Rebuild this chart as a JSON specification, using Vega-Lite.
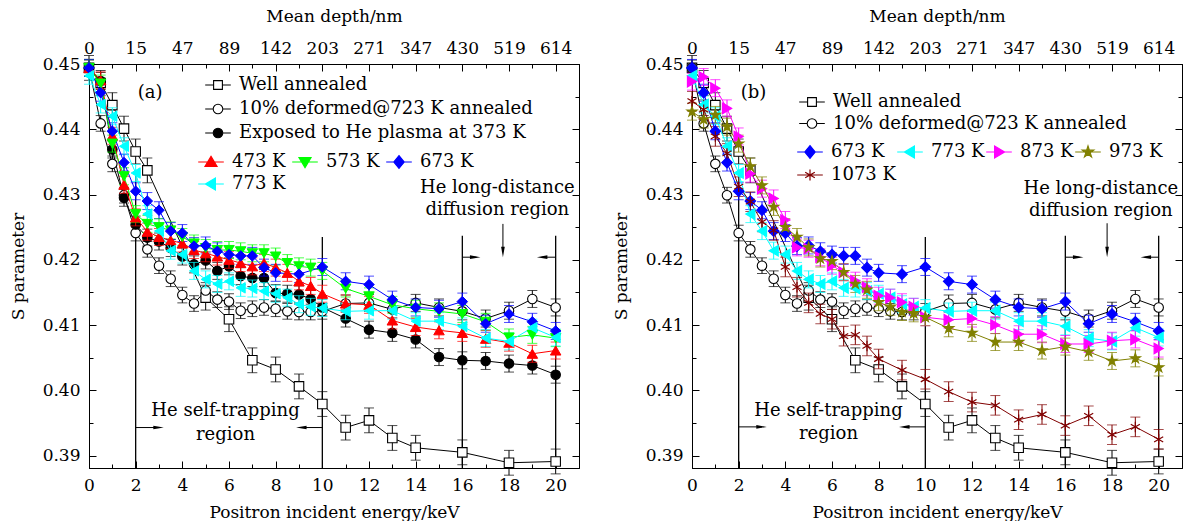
{
  "$schema": "https://vega.github.io/schema/vega-lite/v6.json",
  "background": "white",
  "padding": {"left": 8, "top": 6, "right": 0, "bottom": 0},
  "config": {
    "font": "DejaVu Serif",
    "view": {"stroke": "black", "strokeWidth": 1},
    "axis": {"grid": false, "domainColor": "black", "tickColor": "black", "labelColor": "black", "titleColor": "black", "labelFont": "DejaVu Serif", "titleFont": "DejaVu Serif", "labelFontSize": 17, "titleFontSize": 17, "titleFontWeight": "normal", "labelFlush": false},
    "legend": {"labelFont": "DejaVu Serif", "labelFontSize": 18, "labelColor": "black", "labelLimit": 500},
    "text": {"font": "DejaVu Serif", "fontSize": 18, "color": "black"}
  },
  "datasets": {
    "d": [
      {"s":"Well annealed","x":0,"y":0.4494,"e":0.0019},{"s":"Well annealed","x":0.5,"y":0.4471,"e":0.0019},{"s":"Well annealed","x":1,"y":0.4437,"e":0.0019},{"s":"Well annealed","x":1.5,"y":0.4401,"e":0.0019},{"s":"Well annealed","x":2,"y":0.4366,"e":0.0019},{"s":"Well annealed","x":2.5,"y":0.4337,"e":0.0019},{"s":"Well annealed","x":5,"y":0.4142,"e":0.0019},{"s":"Well annealed","x":6,"y":0.4109,"e":0.0019},{"s":"Well annealed","x":7,"y":0.4046,"e":0.0019},{"s":"Well annealed","x":8,"y":0.4032,"e":0.0019},{"s":"Well annealed","x":9,"y":0.4006,"e":0.0019},{"s":"Well annealed","x":10,"y":0.3979,"e":0.0019},{"s":"Well annealed","x":11,"y":0.3943,"e":0.0019},{"s":"Well annealed","x":12,"y":0.3954,"e":0.0019},{"s":"Well annealed","x":13,"y":0.3927,"e":0.0019},{"s":"Well annealed","x":14,"y":0.3912,"e":0.0019},{"s":"Well annealed","x":16,"y":0.3905,"e":0.0019},{"s":"Well annealed","x":18,"y":0.3889,"e":0.0019},{"s":"Well annealed","x":20,"y":0.3891,"e":0.0019},

      {"s":"10% deformed@723 K annealed","x":0,"y":0.4494,"e":0.0012},{"s":"10% deformed@723 K annealed","x":0.5,"y":0.4409,"e":0.0012},{"s":"10% deformed@723 K annealed","x":1,"y":0.4347,"e":0.0012},{"s":"10% deformed@723 K annealed","x":1.5,"y":0.4299,"e":0.0012},{"s":"10% deformed@723 K annealed","x":2,"y":0.4241,"e":0.0012},{"s":"10% deformed@723 K annealed","x":2.5,"y":0.4216,"e":0.0012},{"s":"10% deformed@723 K annealed","x":3,"y":0.4191,"e":0.0012},{"s":"10% deformed@723 K annealed","x":3.5,"y":0.4171,"e":0.0012},{"s":"10% deformed@723 K annealed","x":4,"y":0.4146,"e":0.0012},{"s":"10% deformed@723 K annealed","x":4.5,"y":0.4133,"e":0.0012},{"s":"10% deformed@723 K annealed","x":5,"y":0.4153,"e":0.0012},{"s":"10% deformed@723 K annealed","x":5.5,"y":0.4139,"e":0.0012},{"s":"10% deformed@723 K annealed","x":6,"y":0.4136,"e":0.0012},{"s":"10% deformed@723 K annealed","x":6.5,"y":0.4122,"e":0.0012},{"s":"10% deformed@723 K annealed","x":7,"y":0.4125,"e":0.0012},{"s":"10% deformed@723 K annealed","x":7.5,"y":0.4127,"e":0.0012},{"s":"10% deformed@723 K annealed","x":8,"y":0.4125,"e":0.0012},{"s":"10% deformed@723 K annealed","x":8.5,"y":0.4121,"e":0.0012},{"s":"10% deformed@723 K annealed","x":9,"y":0.412,"e":0.0012},{"s":"10% deformed@723 K annealed","x":9.5,"y":0.412,"e":0.0012},{"s":"10% deformed@723 K annealed","x":10,"y":0.4121,"e":0.0012},{"s":"10% deformed@723 K annealed","x":11,"y":0.4133,"e":0.0013},{"s":"10% deformed@723 K annealed","x":12,"y":0.4134,"e":0.0013},{"s":"10% deformed@723 K annealed","x":13,"y":0.4124,"e":0.0013},{"s":"10% deformed@723 K annealed","x":14,"y":0.4134,"e":0.0013},{"s":"10% deformed@723 K annealed","x":15,"y":0.4127,"e":0.0013},{"s":"10% deformed@723 K annealed","x":16,"y":0.4121,"e":0.0013},{"s":"10% deformed@723 K annealed","x":17,"y":0.411,"e":0.0013},{"s":"10% deformed@723 K annealed","x":18,"y":0.4122,"e":0.0013},{"s":"10% deformed@723 K annealed","x":19,"y":0.414,"e":0.0013},{"s":"10% deformed@723 K annealed","x":20,"y":0.4127,"e":0.0013},

      {"s":"Exposed to He plasma at 373 K","x":0,"y":0.4494,"e":0.0013},{"s":"Exposed to He plasma at 373 K","x":0.5,"y":0.4474,"e":0.0013},{"s":"Exposed to He plasma at 373 K","x":1,"y":0.4369,"e":0.0013},{"s":"Exposed to He plasma at 373 K","x":1.5,"y":0.4295,"e":0.0013},{"s":"Exposed to He plasma at 373 K","x":2,"y":0.4254,"e":0.0013},{"s":"Exposed to He plasma at 373 K","x":2.5,"y":0.4234,"e":0.0013},{"s":"Exposed to He plasma at 373 K","x":3,"y":0.4228,"e":0.0013},{"s":"Exposed to He plasma at 373 K","x":3.5,"y":0.4218,"e":0.0013},{"s":"Exposed to He plasma at 373 K","x":4,"y":0.4205,"e":0.0013},{"s":"Exposed to He plasma at 373 K","x":4.5,"y":0.4193,"e":0.0013},{"s":"Exposed to He plasma at 373 K","x":5,"y":0.4199,"e":0.0013},{"s":"Exposed to He plasma at 373 K","x":5.5,"y":0.4183,"e":0.0013},{"s":"Exposed to He plasma at 373 K","x":6,"y":0.419,"e":0.0013},{"s":"Exposed to He plasma at 373 K","x":6.5,"y":0.4175,"e":0.0013},{"s":"Exposed to He plasma at 373 K","x":7,"y":0.4172,"e":0.0013},{"s":"Exposed to He plasma at 373 K","x":7.5,"y":0.4172,"e":0.0013},{"s":"Exposed to He plasma at 373 K","x":8,"y":0.4149,"e":0.0013},{"s":"Exposed to He plasma at 373 K","x":8.5,"y":0.4148,"e":0.0013},{"s":"Exposed to He plasma at 373 K","x":9,"y":0.4147,"e":0.0013},{"s":"Exposed to He plasma at 373 K","x":9.5,"y":0.414,"e":0.0013},{"s":"Exposed to He plasma at 373 K","x":10,"y":0.4127,"e":0.0013},{"s":"Exposed to He plasma at 373 K","x":11,"y":0.411,"e":0.0013},{"s":"Exposed to He plasma at 373 K","x":12,"y":0.4093,"e":0.0013},{"s":"Exposed to He plasma at 373 K","x":13,"y":0.4088,"e":0.0013},{"s":"Exposed to He plasma at 373 K","x":14,"y":0.4078,"e":0.0013},{"s":"Exposed to He plasma at 373 K","x":15,"y":0.4051,"e":0.0013},{"s":"Exposed to He plasma at 373 K","x":16,"y":0.4046,"e":0.0013},{"s":"Exposed to He plasma at 373 K","x":17,"y":0.4045,"e":0.0013},{"s":"Exposed to He plasma at 373 K","x":18,"y":0.4041,"e":0.0013},{"s":"Exposed to He plasma at 373 K","x":19,"y":0.4038,"e":0.0013},{"s":"Exposed to He plasma at 373 K","x":20,"y":0.4024,"e":0.0013},

      {"s":"473 K","x":0,"y":0.4494,"e":0.0013},{"s":"473 K","x":0.5,"y":0.4475,"e":0.0013},{"s":"473 K","x":1,"y":0.439,"e":0.0013},{"s":"473 K","x":1.5,"y":0.4315,"e":0.0013},{"s":"473 K","x":2,"y":0.4265,"e":0.0013},{"s":"473 K","x":2.5,"y":0.4243,"e":0.0013},{"s":"473 K","x":3,"y":0.4235,"e":0.0013},{"s":"473 K","x":3.5,"y":0.423,"e":0.0013},{"s":"473 K","x":4,"y":0.4225,"e":0.0013},{"s":"473 K","x":4.5,"y":0.4215,"e":0.0013},{"s":"473 K","x":5,"y":0.421,"e":0.0013},{"s":"473 K","x":5.5,"y":0.4205,"e":0.0013},{"s":"473 K","x":6,"y":0.42,"e":0.0013},{"s":"473 K","x":6.5,"y":0.4195,"e":0.0013},{"s":"473 K","x":7,"y":0.419,"e":0.0013},{"s":"473 K","x":7.5,"y":0.4195,"e":0.0013},{"s":"473 K","x":8,"y":0.4188,"e":0.0013},{"s":"473 K","x":8.5,"y":0.418,"e":0.0013},{"s":"473 K","x":9,"y":0.4167,"e":0.0013},{"s":"473 K","x":9.5,"y":0.416,"e":0.0013},{"s":"473 K","x":10,"y":0.4148,"e":0.0013},{"s":"473 K","x":11,"y":0.4133,"e":0.0013},{"s":"473 K","x":12,"y":0.4131,"e":0.0013},{"s":"473 K","x":13,"y":0.4107,"e":0.0013},{"s":"473 K","x":14,"y":0.4097,"e":0.0013},{"s":"473 K","x":15,"y":0.4092,"e":0.0013},{"s":"473 K","x":16,"y":0.4088,"e":0.0013},{"s":"473 K","x":17,"y":0.4079,"e":0.0013},{"s":"473 K","x":18,"y":0.4073,"e":0.0013},{"s":"473 K","x":19,"y":0.4056,"e":0.0013},{"s":"473 K","x":20,"y":0.4061,"e":0.0013},

      {"s":"573 K","x":0,"y":0.4494,"e":0.0013},{"s":"573 K","x":0.5,"y":0.447,"e":0.0013},{"s":"573 K","x":1,"y":0.4378,"e":0.0013},{"s":"573 K","x":1.5,"y":0.4328,"e":0.0013},{"s":"573 K","x":2,"y":0.427,"e":0.0013},{"s":"573 K","x":2.5,"y":0.4255,"e":0.0013},{"s":"573 K","x":3,"y":0.425,"e":0.0013},{"s":"573 K","x":3.5,"y":0.4245,"e":0.0013},{"s":"573 K","x":4,"y":0.4235,"e":0.0013},{"s":"573 K","x":4.5,"y":0.4225,"e":0.0013},{"s":"573 K","x":5,"y":0.4218,"e":0.0013},{"s":"573 K","x":5.5,"y":0.4215,"e":0.0013},{"s":"573 K","x":6,"y":0.4215,"e":0.0013},{"s":"573 K","x":6.5,"y":0.4213,"e":0.0013},{"s":"573 K","x":7,"y":0.421,"e":0.0013},{"s":"573 K","x":7.5,"y":0.421,"e":0.0013},{"s":"573 K","x":8,"y":0.4205,"e":0.0013},{"s":"573 K","x":8.5,"y":0.4195,"e":0.0013},{"s":"573 K","x":9,"y":0.419,"e":0.0013},{"s":"573 K","x":9.5,"y":0.4188,"e":0.0013},{"s":"573 K","x":10,"y":0.4183,"e":0.0013},{"s":"573 K","x":11,"y":0.4156,"e":0.0013},{"s":"573 K","x":12,"y":0.4144,"e":0.0013},{"s":"573 K","x":13,"y":0.4131,"e":0.0013},{"s":"573 K","x":14,"y":0.4125,"e":0.0013},{"s":"573 K","x":15,"y":0.4121,"e":0.0013},{"s":"573 K","x":16,"y":0.4117,"e":0.0013},{"s":"573 K","x":17,"y":0.4105,"e":0.0013},{"s":"573 K","x":18,"y":0.4081,"e":0.0013},{"s":"573 K","x":19,"y":0.4085,"e":0.0013},{"s":"573 K","x":20,"y":0.408,"e":0.0013},

      {"s":"673 K","x":0,"y":0.4494,"e":0.0013},{"s":"673 K","x":0.5,"y":0.4456,"e":0.0013},{"s":"673 K","x":1,"y":0.4397,"e":0.0013},{"s":"673 K","x":1.5,"y":0.4349,"e":0.0013},{"s":"673 K","x":2,"y":0.4305,"e":0.0013},{"s":"673 K","x":2.5,"y":0.429,"e":0.0013},{"s":"673 K","x":3,"y":0.4276,"e":0.0013},{"s":"673 K","x":3.5,"y":0.4244,"e":0.0013},{"s":"673 K","x":4,"y":0.4241,"e":0.0013},{"s":"673 K","x":4.5,"y":0.4221,"e":0.0013},{"s":"673 K","x":5,"y":0.4222,"e":0.0013},{"s":"673 K","x":5.5,"y":0.4213,"e":0.0013},{"s":"673 K","x":6,"y":0.4208,"e":0.0013},{"s":"673 K","x":6.5,"y":0.4206,"e":0.0013},{"s":"673 K","x":7,"y":0.4206,"e":0.0013},{"s":"673 K","x":7.5,"y":0.4188,"e":0.0013},{"s":"673 K","x":8,"y":0.418,"e":0.0013},{"s":"673 K","x":9,"y":0.4178,"e":0.0013},{"s":"673 K","x":10,"y":0.4189,"e":0.0013},{"s":"673 K","x":11,"y":0.4167,"e":0.0013},{"s":"673 K","x":12,"y":0.4162,"e":0.0013},{"s":"673 K","x":13,"y":0.4139,"e":0.0013},{"s":"673 K","x":14,"y":0.4127,"e":0.0013},{"s":"673 K","x":15,"y":0.4125,"e":0.0013},{"s":"673 K","x":16,"y":0.4136,"e":0.0013},{"s":"673 K","x":17,"y":0.4102,"e":0.0013},{"s":"673 K","x":18,"y":0.4117,"e":0.0013},{"s":"673 K","x":19,"y":0.4105,"e":0.0013},{"s":"673 K","x":20,"y":0.4091,"e":0.0013},

      {"s":"773 K","x":0,"y":0.4482,"e":0.0013},{"s":"773 K","x":0.5,"y":0.4438,"e":0.0013},{"s":"773 K","x":1,"y":0.442,"e":0.0013},{"s":"773 K","x":1.5,"y":0.4374,"e":0.0013},{"s":"773 K","x":2,"y":0.4333,"e":0.0013},{"s":"773 K","x":2.5,"y":0.427,"e":0.0013},{"s":"773 K","x":3,"y":0.4244,"e":0.0013},{"s":"773 K","x":3.5,"y":0.4214,"e":0.0013},{"s":"773 K","x":4,"y":0.4208,"e":0.0013},{"s":"773 K","x":4.5,"y":0.4183,"e":0.0013},{"s":"773 K","x":5,"y":0.417,"e":0.0013},{"s":"773 K","x":5.5,"y":0.4163,"e":0.0013},{"s":"773 K","x":6,"y":0.4167,"e":0.0013},{"s":"773 K","x":6.5,"y":0.4157,"e":0.0013},{"s":"773 K","x":7,"y":0.4156,"e":0.0013},{"s":"773 K","x":7.5,"y":0.4152,"e":0.0013},{"s":"773 K","x":8,"y":0.4148,"e":0.0013},{"s":"773 K","x":8.5,"y":0.4142,"e":0.0013},{"s":"773 K","x":9,"y":0.4132,"e":0.0013},{"s":"773 K","x":9.5,"y":0.4128,"e":0.0013},{"s":"773 K","x":10,"y":0.4126,"e":0.0013},{"s":"773 K","x":11,"y":0.4121,"e":0.0013},{"s":"773 K","x":12,"y":0.4122,"e":0.0013},{"s":"773 K","x":13,"y":0.4122,"e":0.0013},{"s":"773 K","x":14,"y":0.4106,"e":0.0013},{"s":"773 K","x":15,"y":0.4106,"e":0.0013},{"s":"773 K","x":16,"y":0.4098,"e":0.0013},{"s":"773 K","x":17,"y":0.408,"e":0.0013},{"s":"773 K","x":18,"y":0.4075,"e":0.0013},{"s":"773 K","x":19,"y":0.4096,"e":0.0013},{"s":"773 K","x":20,"y":0.4081,"e":0.0013},

      {"s":"873 K","x":0,"y":0.4473,"e":0.0013},{"s":"873 K","x":0.5,"y":0.448,"e":0.0013},{"s":"873 K","x":1,"y":0.4463,"e":0.0013},{"s":"873 K","x":1.5,"y":0.4432,"e":0.0013},{"s":"873 K","x":2,"y":0.4389,"e":0.0013},{"s":"873 K","x":2.5,"y":0.4332,"e":0.0013},{"s":"873 K","x":3,"y":0.4309,"e":0.0013},{"s":"873 K","x":3.5,"y":0.4294,"e":0.0013},{"s":"873 K","x":4,"y":0.4261,"e":0.0013},{"s":"873 K","x":4.5,"y":0.4219,"e":0.0013},{"s":"873 K","x":5,"y":0.4217,"e":0.0013},{"s":"873 K","x":5.5,"y":0.4204,"e":0.0013},{"s":"873 K","x":6,"y":0.4191,"e":0.0013},{"s":"873 K","x":6.5,"y":0.4181,"e":0.0013},{"s":"873 K","x":7,"y":0.4168,"e":0.0013},{"s":"873 K","x":7.5,"y":0.4158,"e":0.0013},{"s":"873 K","x":8,"y":0.4145,"e":0.0013},{"s":"873 K","x":8.5,"y":0.4142,"e":0.0013},{"s":"873 K","x":9,"y":0.4135,"e":0.0013},{"s":"873 K","x":9.5,"y":0.4128,"e":0.0013},{"s":"873 K","x":10,"y":0.4112,"e":0.0013},{"s":"873 K","x":11,"y":0.4108,"e":0.0013},{"s":"873 K","x":12,"y":0.411,"e":0.0013},{"s":"873 K","x":13,"y":0.41,"e":0.0013},{"s":"873 K","x":14,"y":0.4086,"e":0.0013},{"s":"873 K","x":15,"y":0.4086,"e":0.0013},{"s":"873 K","x":16,"y":0.4071,"e":0.0013},{"s":"873 K","x":17,"y":0.4071,"e":0.0013},{"s":"873 K","x":18,"y":0.4076,"e":0.0013},{"s":"873 K","x":19,"y":0.4078,"e":0.0013},{"s":"873 K","x":20,"y":0.4064,"e":0.0013},

      {"s":"973 K","x":0,"y":0.4427,"e":0.0013},{"s":"973 K","x":0.5,"y":0.4415,"e":0.0013},{"s":"973 K","x":1,"y":0.4422,"e":0.0013},{"s":"973 K","x":1.5,"y":0.4404,"e":0.0013},{"s":"973 K","x":2,"y":0.4378,"e":0.0013},{"s":"973 K","x":2.5,"y":0.4343,"e":0.0013},{"s":"973 K","x":3,"y":0.4314,"e":0.0013},{"s":"973 K","x":3.5,"y":0.4281,"e":0.0013},{"s":"973 K","x":4,"y":0.425,"e":0.0013},{"s":"973 K","x":4.5,"y":0.4235,"e":0.0013},{"s":"973 K","x":5,"y":0.4219,"e":0.0013},{"s":"973 K","x":5.5,"y":0.4202,"e":0.0013},{"s":"973 K","x":6,"y":0.4198,"e":0.0013},{"s":"973 K","x":6.5,"y":0.4181,"e":0.0013},{"s":"973 K","x":7,"y":0.4163,"e":0.0013},{"s":"973 K","x":7.5,"y":0.4154,"e":0.0013},{"s":"973 K","x":8,"y":0.4135,"e":0.0013},{"s":"973 K","x":8.5,"y":0.4128,"e":0.0013},{"s":"973 K","x":9,"y":0.412,"e":0.0013},{"s":"973 K","x":9.5,"y":0.4118,"e":0.0013},{"s":"973 K","x":10,"y":0.4112,"e":0.0013},{"s":"973 K","x":11,"y":0.4095,"e":0.0013},{"s":"973 K","x":12,"y":0.4088,"e":0.0013},{"s":"973 K","x":13,"y":0.4074,"e":0.0013},{"s":"973 K","x":14,"y":0.4074,"e":0.0013},{"s":"973 K","x":15,"y":0.4061,"e":0.0013},{"s":"973 K","x":16,"y":0.4067,"e":0.0013},{"s":"973 K","x":17,"y":0.4059,"e":0.0013},{"s":"973 K","x":18,"y":0.4045,"e":0.0013},{"s":"973 K","x":19,"y":0.4049,"e":0.0013},{"s":"973 K","x":20,"y":0.4035,"e":0.0013},

      {"s":"1073 K","x":0,"y":0.4443,"e":0.0015},{"s":"1073 K","x":0.5,"y":0.443,"e":0.0015},{"s":"1073 K","x":1,"y":0.4389,"e":0.0015},{"s":"1073 K","x":1.5,"y":0.4363,"e":0.0015},{"s":"1073 K","x":2,"y":0.4312,"e":0.0015},{"s":"1073 K","x":2.5,"y":0.4289,"e":0.0015},{"s":"1073 K","x":3,"y":0.4258,"e":0.0015},{"s":"1073 K","x":3.5,"y":0.4245,"e":0.0015},{"s":"1073 K","x":4,"y":0.4189,"e":0.0015},{"s":"1073 K","x":4.5,"y":0.4158,"e":0.0015},{"s":"1073 K","x":5,"y":0.4134,"e":0.0015},{"s":"1073 K","x":5.5,"y":0.4117,"e":0.0015},{"s":"1073 K","x":6,"y":0.4109,"e":0.0015},{"s":"1073 K","x":6.5,"y":0.4083,"e":0.0015},{"s":"1073 K","x":7,"y":0.4085,"e":0.0015},{"s":"1073 K","x":7.5,"y":0.4068,"e":0.0015},{"s":"1073 K","x":8,"y":0.4048,"e":0.0015},{"s":"1073 K","x":9,"y":0.4031,"e":0.0015},{"s":"1073 K","x":10,"y":0.4017,"e":0.0015},{"s":"1073 K","x":11,"y":0.3998,"e":0.0015},{"s":"1073 K","x":12,"y":0.3982,"e":0.0015},{"s":"1073 K","x":13,"y":0.3977,"e":0.0015},{"s":"1073 K","x":14,"y":0.3955,"e":0.0015},{"s":"1073 K","x":15,"y":0.3963,"e":0.0015},{"s":"1073 K","x":16,"y":0.3946,"e":0.0015},{"s":"1073 K","x":17,"y":0.3961,"e":0.0015},{"s":"1073 K","x":18,"y":0.3932,"e":0.0015},{"s":"1073 K","x":19,"y":0.3944,"e":0.0015},{"s":"1073 K","x":20,"y":0.3925,"e":0.0015}
    ]
  },
  "spacing": 31,
  "resolve": {"scale": {"x": "independent", "y": "independent", "color": "independent", "stroke": "independent", "shape": "independent", "fill": "independent"}},
  "hconcat": [
    {
      "width": 490, "height": 404,
      "data": {"name": "d"},
      "resolve": {"scale": {"color": "independent", "stroke": "independent", "shape": "independent", "fill": "independent"}, "axis": {"x": "independent", "y": "independent"}},
      "layer": [
        {
          "mark": {"type": "point", "opacity": 0},
          "encoding": {
            "x": {"field": "x", "type": "quantitative", "scale": {"domain": [0, 21], "nice": false, "zero": false},
              "axis": {"orient": "bottom", "title": "Positron incident energy/keV", "values": [0,1,2,3,4,5,6,7,8,9,10,11,12,13,14,15,16,17,18,19,20], "labelExpr": "datum.value % 2 === 0 ? datum.label : ''", "tickSize": {"condition": {"test": "datum.value % 2 === 0", "value": -7}, "value": -4}, "labelPadding": 16, "titlePadding": 11}},
            "y": {"field": "y", "type": "quantitative", "scale": {"domain": [0.3881, 0.45], "nice": false, "zero": false},
              "axis": {"orient": "left", "title": "S parameter", "values": [0.39,0.395,0.4,0.405,0.41,0.415,0.42,0.425,0.43,0.435,0.44,0.445,0.45], "labelExpr": "abs(datum.value*100 - round(datum.value*100)) < 0.01 ? format(datum.value, '.2f') : ''", "tickSize": {"condition": {"test": "abs(datum.value*100 - round(datum.value*100)) < 0.01", "value": -7}, "value": -4}, "labelPadding": 16, "titlePadding": 15}}
          }
        },
        {
          "mark": {"type": "point", "opacity": 0},
          "encoding": {
            "x": {"field": "x", "type": "quantitative",
              "axis": {"orient": "top", "title": "Mean depth/nm", "values": [0,1,2,3,4,5,6,7,8,9,10,11,12,13,14,15,16,17,18,19,20], "labelExpr": "datum.value % 2 === 0 ? ['0','15','47','89','142','203','271','347','430','519','614'][datum.value/2] : ''", "tickSize": {"condition": {"test": "datum.value % 2 === 0", "value": -7}, "value": -4}, "labelPadding": 14, "titlePadding": 14}},
            "y": {"field": "y", "type": "quantitative",
              "axis": {"orient": "right", "title": null, "labels": false, "values": [0.39,0.395,0.4,0.405,0.41,0.415,0.42,0.425,0.43,0.435,0.44,0.445,0.45], "tickSize": {"condition": {"test": "abs(datum.value*100 - round(datum.value*100)) < 0.01", "value": -7}, "value": -4}}}
          }
        },
        {"data": {"values": [{}]}, "mark": {"type": "rule", "color": "black", "strokeWidth": 1.3}, "encoding": {"x": {"datum": 2, "axis": null}, "y": {"datum": 0.3881, "axis": null}, "y2": {"datum": 0.433}}},
        {"data": {"values": [{}]}, "mark": {"type": "rule", "color": "black", "strokeWidth": 1.3}, "encoding": {"x": {"datum": 10, "axis": null}, "y": {"datum": 0.3881, "axis": null}, "y2": {"datum": 0.4235}}},
        {"data": {"values": [{}]}, "mark": {"type": "rule", "color": "black", "strokeWidth": 1.3}, "encoding": {"x": {"datum": 16, "axis": null}, "y": {"datum": 0.3881, "axis": null}, "y2": {"datum": 0.4237}}},
        {"data": {"values": [{}]}, "mark": {"type": "rule", "color": "black", "strokeWidth": 1.3}, "encoding": {"x": {"datum": 20, "axis": null}, "y": {"datum": 0.3881, "axis": null}, "y2": {"datum": 0.4237}}},
        {"data": {"values": [{}]}, "mark": {"type": "rule", "color": "black", "strokeWidth": 1}, "encoding": {"x": {"datum": 2, "axis": null}, "x2": {"datum": 3.0}, "y": {"datum": 0.3943, "axis": null}}},
        {"data": {"values": [{}]}, "mark": {"type": "rule", "color": "black", "strokeWidth": 1}, "encoding": {"x": {"datum": 9.1, "axis": null}, "x2": {"datum": 10}, "y": {"datum": 0.3943, "axis": null}}},
        {"data": {"values": [{}]}, "mark": {"type": "rule", "color": "black", "strokeWidth": 1}, "encoding": {"x": {"datum": 16, "axis": null}, "x2": {"datum": 16.6}, "y": {"datum": 0.4204, "axis": null}}},
        {"data": {"values": [{}]}, "mark": {"type": "rule", "color": "black", "strokeWidth": 1}, "encoding": {"x": {"datum": 19.4, "axis": null}, "x2": {"datum": 20}, "y": {"datum": 0.4204, "axis": null}}},
        {"data": {"values": [{}]}, "mark": {"type": "rule", "color": "black", "strokeWidth": 1}, "encoding": {"x": {"datum": 17.74, "axis": null}, "y": {"datum": 0.4255, "axis": null}, "y2": {"datum": 0.4212}}},
        {"data": {"values": [{}]}, "mark": {"type": "point", "filled": true, "color": "black", "opacity": 1, "size": 110, "shape": "M-1,-0.35L1,0L-1,0.35Z"}, "encoding": {"x": {"datum": 2.98, "axis": null}, "y": {"datum": 0.3943, "axis": null}}},
        {"data": {"values": [{}]}, "mark": {"type": "point", "filled": true, "color": "black", "opacity": 1, "size": 110, "shape": "M1,-0.35L-1,0L1,0.35Z"}, "encoding": {"x": {"datum": 9.1, "axis": null}, "y": {"datum": 0.3943, "axis": null}}},
        {"data": {"values": [{}]}, "mark": {"type": "point", "filled": true, "color": "black", "opacity": 1, "size": 110, "shape": "M-1,-0.35L1,0L-1,0.35Z"}, "encoding": {"x": {"datum": 16.55, "axis": null}, "y": {"datum": 0.4204, "axis": null}}},
        {"data": {"values": [{}]}, "mark": {"type": "point", "filled": true, "color": "black", "opacity": 1, "size": 110, "shape": "M1,-0.35L-1,0L1,0.35Z"}, "encoding": {"x": {"datum": 19.42, "axis": null}, "y": {"datum": 0.4204, "axis": null}}},
        {"data": {"values": [{}]}, "mark": {"type": "point", "filled": true, "color": "black", "opacity": 1, "size": 110, "shape": "M-0.35,-1L0,1L0.35,-1Z"}, "encoding": {"x": {"datum": 17.74, "axis": null}, "y": {"datum": 0.4212, "axis": null}}},
        {"data": {"values": [{}]}, "mark": {"type": "text", "text": "He self-trapping"}, "encoding": {"x": {"datum": 5.85, "axis": null}, "y": {"datum": 0.3968, "axis": null}}},
        {"data": {"values": [{}]}, "mark": {"type": "text", "text": "region"}, "encoding": {"x": {"datum": 5.85, "axis": null}, "y": {"datum": 0.3932, "axis": null}}},
        {"data": {"values": [{}]}, "mark": {"type": "text", "text": "He long-distance"}, "encoding": {"x": {"datum": 17.5, "axis": null}, "y": {"datum": 0.4310, "axis": null}}},
        {"data": {"values": [{}]}, "mark": {"type": "text", "text": "diffusion region"}, "encoding": {"x": {"datum": 17.5, "axis": null}, "y": {"datum": 0.4276, "axis": null}}},
        {"data": {"values": [{}]}, "mark": {"type": "text", "text": "(a)"}, "encoding": {"x": {"datum": 2.62, "axis": null}, "y": {"datum": 0.4456, "axis": null}}},
        {
          "transform": [{"filter": {"field": "s", "oneOf": ["Well annealed", "10% deformed@723 K annealed", "Exposed to He plasma at 373 K"]}}],
          "layer": [
            {"mark": {"type": "errorbar", "color": "black", "ticks": {"size": 10, "color": "black"}, "rule": {"color": "black"}}, "encoding": {"x": {"field": "x", "type": "quantitative", "axis": null}, "y": {"field": "y", "type": "quantitative", "axis": null}, "yError": {"field": "e"}, "detail": {"field": "s"}}},
            {"mark": {"type": "line", "color": "black", "strokeWidth": 1}, "encoding": {"x": {"field": "x", "type": "quantitative", "axis": null}, "y": {"field": "y", "type": "quantitative", "axis": null}, "detail": {"field": "s"}}},
            {"mark": {"type": "point", "filled": false, "color": "black", "opacity": 1, "size": 90, "strokeWidth": 1.1},
              "encoding": {"x": {"field": "x", "type": "quantitative", "axis": null}, "y": {"field": "y", "type": "quantitative", "axis": null},
                "shape": {"field": "s", "type": "nominal", "scale": {"range": ["circle", "circle", "square"]}, "legend": null},
                "fill": {"field": "s", "type": "nominal", "scale": {"domain": ["Well annealed", "10% deformed@723 K annealed", "Exposed to He plasma at 373 K"], "range": ["white", "white", "black"]},
                  "legend": {"orient": "none", "legendX": 120, "legendY": 12, "title": null, "rowPadding": 6, "labelOffset": 12, "symbolSize": 256,
                    "encoding": {"symbols": {"shape": {"value": {"expr": "datum.value === 'Well annealed' ? 'M-1.6,0H-0.55M0.55,0H1.6M-0.55,-0.55H0.55V0.55H-0.55Z' : 'M-1.6,0H-0.6M0.6,0H1.6M-0.6,0A0.6,0.6,0,1,1,0.6,0A0.6,0.6,0,1,1,-0.6,0Z'"}}, "stroke": {"value": "black"}, "strokeWidth": {"value": 1.1}}}}}}}
          ]
        },
        {
          "transform": [{"filter": {"field": "s", "oneOf": ["473 K", "573 K", "673 K", "773 K"]}}],
          "layer": [
            {"mark": {"type": "errorbar", "ticks": {"size": 10}}, "encoding": {"x": {"field": "x", "type": "quantitative", "axis": null}, "y": {"field": "y", "type": "quantitative", "axis": null}, "yError": {"field": "e"}, "color": {"field": "s", "type": "nominal", "scale": {"range": ["#ff0000", "#00ff00", "#0000ff", "#00ffff"]}, "legend": null}}},
            {"mark": {"type": "line", "strokeWidth": 1}, "encoding": {"x": {"field": "x", "type": "quantitative", "axis": null}, "y": {"field": "y", "type": "quantitative", "axis": null}, "color": {"field": "s", "type": "nominal", "legend": null}}},
            {"mark": {"type": "point", "filled": false, "opacity": 1, "size": 110, "strokeWidth": 1},
              "encoding": {"x": {"field": "x", "type": "quantitative", "axis": null}, "y": {"field": "y", "type": "quantitative", "axis": null},
                "shape": {"field": "s", "type": "nominal", "scale": {"range": ["triangle-up", "triangle-down", "diamond", "triangle-left"]}, "legend": null},
                "stroke": {"field": "s", "type": "nominal", "scale": {"domain": ["473 K", "573 K", "673 K", "773 K"], "range": ["#ff0000", "#00ff00", "#0000ff", "#00ffff"]},
                  "legend": {"orient": "none", "direction": "horizontal", "legendX": 113, "legendY": 89, "title": null, "columns": 3, "columnPadding": 3, "labelOffset": 12, "symbolSize": 256, "rowPadding": 4,
                    "encoding": {"symbols": {"shape": {"value": {"expr": "datum.value === '473 K' ? 'M-1.6,0H1.6M0,-0.7L0.75,0.55L-0.75,0.55Z' : datum.value === '573 K' ? 'M-1.6,0H1.6M0,0.7L0.75,-0.55L-0.75,-0.55Z' : datum.value === '673 K' ? 'M-1.6,0H1.6M0,-0.8L0.65,0L0,0.8L-0.65,0Z' : 'M-1.6,0H1.6M-0.7,0L0.55,-0.75L0.55,0.75Z'"}}, "strokeWidth": {"value": 1.2}}}}},
                "fill": {"field": "s", "type": "nominal", "scale": {"domain": ["473 K", "573 K", "673 K", "773 K"], "range": ["#ff0000", "#00ff00", "#0000ff", "#00ffff"]},
                  "legend": {"orient": "none", "direction": "horizontal", "legendX": 113, "legendY": 89, "title": null, "columns": 3, "columnPadding": 3, "labelOffset": 12, "symbolSize": 256, "rowPadding": 4,
                    "encoding": {"symbols": {"shape": {"value": {"expr": "datum.value === '473 K' ? 'M-1.6,0H1.6M0,-0.7L0.75,0.55L-0.75,0.55Z' : datum.value === '573 K' ? 'M-1.6,0H1.6M0,0.7L0.75,-0.55L-0.75,-0.55Z' : datum.value === '673 K' ? 'M-1.6,0H1.6M0,-0.8L0.65,0L0,0.8L-0.65,0Z' : 'M-1.6,0H1.6M-0.7,0L0.55,-0.75L0.55,0.75Z'"}}, "strokeWidth": {"value": 1.2}}}}}}}
          ]
        }
      ]
    },
    {
      "width": 490, "height": 404,
      "data": {"name": "d"},
      "resolve": {"scale": {"color": "independent", "stroke": "independent", "shape": "independent", "fill": "independent"}, "axis": {"x": "independent", "y": "independent"}},
      "layer": [
        {
          "mark": {"type": "point", "opacity": 0},
          "encoding": {
            "x": {"field": "x", "type": "quantitative", "scale": {"domain": [0, 21], "nice": false, "zero": false},
              "axis": {"orient": "bottom", "title": "Positron incident energy/keV", "values": [0,1,2,3,4,5,6,7,8,9,10,11,12,13,14,15,16,17,18,19,20], "labelExpr": "datum.value % 2 === 0 ? datum.label : ''", "tickSize": {"condition": {"test": "datum.value % 2 === 0", "value": -7}, "value": -4}, "labelPadding": 16, "titlePadding": 11}},
            "y": {"field": "y", "type": "quantitative", "scale": {"domain": [0.3881, 0.45], "nice": false, "zero": false},
              "axis": {"orient": "left", "title": "S parameter", "values": [0.39,0.395,0.4,0.405,0.41,0.415,0.42,0.425,0.43,0.435,0.44,0.445,0.45], "labelExpr": "abs(datum.value*100 - round(datum.value*100)) < 0.01 ? format(datum.value, '.2f') : ''", "tickSize": {"condition": {"test": "abs(datum.value*100 - round(datum.value*100)) < 0.01", "value": -7}, "value": -4}, "labelPadding": 16, "titlePadding": 15}}
          }
        },
        {
          "mark": {"type": "point", "opacity": 0},
          "encoding": {
            "x": {"field": "x", "type": "quantitative",
              "axis": {"orient": "top", "title": "Mean depth/nm", "values": [0,1,2,3,4,5,6,7,8,9,10,11,12,13,14,15,16,17,18,19,20], "labelExpr": "datum.value % 2 === 0 ? ['0','15','47','89','142','203','271','347','430','519','614'][datum.value/2] : ''", "tickSize": {"condition": {"test": "datum.value % 2 === 0", "value": -7}, "value": -4}, "labelPadding": 14, "titlePadding": 14}},
            "y": {"field": "y", "type": "quantitative",
              "axis": {"orient": "right", "title": null, "labels": false, "values": [0.39,0.395,0.4,0.405,0.41,0.415,0.42,0.425,0.43,0.435,0.44,0.445,0.45], "tickSize": {"condition": {"test": "abs(datum.value*100 - round(datum.value*100)) < 0.01", "value": -7}, "value": -4}}}
          }
        },
        {"data": {"values": [{}]}, "mark": {"type": "rule", "color": "black", "strokeWidth": 1.3}, "encoding": {"x": {"datum": 2, "axis": null}, "y": {"datum": 0.3881, "axis": null}, "y2": {"datum": 0.433}}},
        {"data": {"values": [{}]}, "mark": {"type": "rule", "color": "black", "strokeWidth": 1.3}, "encoding": {"x": {"datum": 10, "axis": null}, "y": {"datum": 0.3881, "axis": null}, "y2": {"datum": 0.4235}}},
        {"data": {"values": [{}]}, "mark": {"type": "rule", "color": "black", "strokeWidth": 1.3}, "encoding": {"x": {"datum": 16, "axis": null}, "y": {"datum": 0.3881, "axis": null}, "y2": {"datum": 0.4237}}},
        {"data": {"values": [{}]}, "mark": {"type": "rule", "color": "black", "strokeWidth": 1.3}, "encoding": {"x": {"datum": 20, "axis": null}, "y": {"datum": 0.3881, "axis": null}, "y2": {"datum": 0.4237}}},
        {"data": {"values": [{}]}, "mark": {"type": "rule", "color": "black", "strokeWidth": 1}, "encoding": {"x": {"datum": 2, "axis": null}, "x2": {"datum": 3.0}, "y": {"datum": 0.3944, "axis": null}}},
        {"data": {"values": [{}]}, "mark": {"type": "rule", "color": "black", "strokeWidth": 1}, "encoding": {"x": {"datum": 9.1, "axis": null}, "x2": {"datum": 10}, "y": {"datum": 0.3944, "axis": null}}},
        {"data": {"values": [{}]}, "mark": {"type": "rule", "color": "black", "strokeWidth": 1}, "encoding": {"x": {"datum": 16, "axis": null}, "x2": {"datum": 16.6}, "y": {"datum": 0.4204, "axis": null}}},
        {"data": {"values": [{}]}, "mark": {"type": "rule", "color": "black", "strokeWidth": 1}, "encoding": {"x": {"datum": 19.4, "axis": null}, "x2": {"datum": 20}, "y": {"datum": 0.4204, "axis": null}}},
        {"data": {"values": [{}]}, "mark": {"type": "rule", "color": "black", "strokeWidth": 1}, "encoding": {"x": {"datum": 17.79, "axis": null}, "y": {"datum": 0.4256, "axis": null}, "y2": {"datum": 0.4212}}},
        {"data": {"values": [{}]}, "mark": {"type": "point", "filled": true, "color": "black", "opacity": 1, "size": 110, "shape": "M-1,-0.35L1,0L-1,0.35Z"}, "encoding": {"x": {"datum": 2.98, "axis": null}, "y": {"datum": 0.3944, "axis": null}}},
        {"data": {"values": [{}]}, "mark": {"type": "point", "filled": true, "color": "black", "opacity": 1, "size": 110, "shape": "M1,-0.35L-1,0L1,0.35Z"}, "encoding": {"x": {"datum": 9.1, "axis": null}, "y": {"datum": 0.3944, "axis": null}}},
        {"data": {"values": [{}]}, "mark": {"type": "point", "filled": true, "color": "black", "opacity": 1, "size": 110, "shape": "M-1,-0.35L1,0L-1,0.35Z"}, "encoding": {"x": {"datum": 16.55, "axis": null}, "y": {"datum": 0.4204, "axis": null}}},
        {"data": {"values": [{}]}, "mark": {"type": "point", "filled": true, "color": "black", "opacity": 1, "size": 110, "shape": "M1,-0.35L-1,0L1,0.35Z"}, "encoding": {"x": {"datum": 19.45, "axis": null}, "y": {"datum": 0.4204, "axis": null}}},
        {"data": {"values": [{}]}, "mark": {"type": "point", "filled": true, "color": "black", "opacity": 1, "size": 110, "shape": "M-0.35,-1L0,1L0.35,-1Z"}, "encoding": {"x": {"datum": 17.79, "axis": null}, "y": {"datum": 0.4212, "axis": null}}},
        {"data": {"values": [{}]}, "mark": {"type": "text", "text": "He self-trapping"}, "encoding": {"x": {"datum": 5.85, "axis": null}, "y": {"datum": 0.3968, "axis": null}}},
        {"data": {"values": [{}]}, "mark": {"type": "text", "text": "region"}, "encoding": {"x": {"datum": 5.85, "axis": null}, "y": {"datum": 0.3933, "axis": null}}},
        {"data": {"values": [{}]}, "mark": {"type": "text", "text": "He long-distance"}, "encoding": {"x": {"datum": 17.52, "axis": null}, "y": {"datum": 0.4309, "axis": null}}},
        {"data": {"values": [{}]}, "mark": {"type": "text", "text": "diffusion region"}, "encoding": {"x": {"datum": 17.52, "axis": null}, "y": {"datum": 0.4275, "axis": null}}},
        {"data": {"values": [{}]}, "mark": {"type": "text", "text": "(b)"}, "encoding": {"x": {"datum": 2.64, "axis": null}, "y": {"datum": 0.4455, "axis": null}}},
        {
          "transform": [{"filter": {"field": "s", "oneOf": ["Well annealed", "10% deformed@723 K annealed"]}}],
          "layer": [
            {"mark": {"type": "errorbar", "color": "black", "ticks": {"size": 10, "color": "black"}, "rule": {"color": "black"}}, "encoding": {"x": {"field": "x", "type": "quantitative", "axis": null}, "y": {"field": "y", "type": "quantitative", "axis": null}, "yError": {"field": "e"}, "detail": {"field": "s"}}},
            {"mark": {"type": "line", "color": "black", "strokeWidth": 1}, "encoding": {"x": {"field": "x", "type": "quantitative", "axis": null}, "y": {"field": "y", "type": "quantitative", "axis": null}, "detail": {"field": "s"}}},
            {"mark": {"type": "point", "filled": false, "color": "black", "opacity": 1, "size": 90, "strokeWidth": 1.1},
              "encoding": {"x": {"field": "x", "type": "quantitative", "axis": null}, "y": {"field": "y", "type": "quantitative", "axis": null},
                "shape": {"field": "s", "type": "nominal", "scale": {"range": ["circle", "square"]}, "legend": null},
                "fill": {"field": "s", "type": "nominal", "scale": {"domain": ["Well annealed", "10% deformed@723 K annealed"], "range": ["white", "white"]},
                  "legend": {"orient": "none", "legendX": 111, "legendY": 29, "title": null, "rowPadding": 3.5, "labelOffset": 12, "symbolSize": 256,
                    "encoding": {"symbols": {"shape": {"value": {"expr": "datum.value === 'Well annealed' ? 'M-1.6,0H-0.55M0.55,0H1.6M-0.55,-0.55H0.55V0.55H-0.55Z' : 'M-1.6,0H-0.6M0.6,0H1.6M-0.6,0A0.6,0.6,0,1,1,0.6,0A0.6,0.6,0,1,1,-0.6,0Z'"}}, "stroke": {"value": "black"}, "strokeWidth": {"value": 1.1}}}}}}}
          ]
        },
        {
          "transform": [{"filter": {"field": "s", "oneOf": ["673 K", "773 K", "873 K", "973 K", "1073 K"]}}],
          "layer": [
            {"mark": {"type": "errorbar", "ticks": {"size": 10}}, "encoding": {"x": {"field": "x", "type": "quantitative", "axis": null}, "y": {"field": "y", "type": "quantitative", "axis": null}, "yError": {"field": "e"}, "color": {"field": "s", "type": "nominal", "scale": {"range": ["#800000", "#0000ff", "#00ffff", "#ff00ff", "#808000"]}, "legend": null}}},
            {"mark": {"type": "line", "strokeWidth": 1}, "encoding": {"x": {"field": "x", "type": "quantitative", "axis": null}, "y": {"field": "y", "type": "quantitative", "axis": null}, "color": {"field": "s", "type": "nominal", "legend": null}}},
            {"mark": {"type": "point", "filled": false, "opacity": 1, "size": 110, "strokeWidth": 1.2},
              "encoding": {"x": {"field": "x", "type": "quantitative", "axis": null}, "y": {"field": "y", "type": "quantitative", "axis": null},
                "shape": {"field": "s", "type": "nominal", "scale": {"range": ["M0,-1L0,1M-0.866,-0.5L0.866,0.5M-0.866,0.5L0.866,-0.5M-0.2,0L0.2,0", "diamond", "triangle-left", "triangle-right", "M0,-1L0.225,-0.309L0.951,-0.309L0.363,0.118L0.588,0.809L0,0.382L-0.588,0.809L-0.363,0.118L-0.951,-0.309L-0.225,-0.309Z"]}, "legend": null},
                "stroke": {"field": "s", "type": "nominal", "scale": {"domain": ["673 K", "773 K", "873 K", "973 K", "1073 K"], "range": ["#0000ff", "#00ffff", "#ff00ff", "#808000", "#800000"]},
                  "legend": {"orient": "none", "direction": "horizontal", "legendX": 109, "legendY": 79, "title": null, "columns": 4, "columnPadding": -2, "labelOffset": 12, "symbolSize": 256, "rowPadding": 5,
                    "encoding": {"symbols": {"shape": {"value": {"expr": "datum.value === '673 K' ? 'M-1.6,0H1.6M0,-0.8L0.65,0L0,0.8L-0.65,0Z' : datum.value === '773 K' ? 'M-1.6,0H1.6M-0.7,0L0.55,-0.75L0.55,0.75Z' : datum.value === '873 K' ? 'M-1.6,0H1.6M0.7,0L-0.55,-0.75L-0.55,0.75Z' : datum.value === '973 K' ? 'M-1.6,0H1.6M0,-0.75L0.17,-0.23L0.71,-0.23L0.27,0.09L0.44,0.61L0,0.29L-0.44,0.61L-0.27,0.09L-0.71,-0.23L-0.17,-0.23Z' : 'M-1.6,0H1.6M0,-0.7V0.7M-0.6,-0.35L0.6,0.35M-0.6,0.35L0.6,-0.35'"}}, "strokeWidth": {"value": 1.2}}}}},
                "fill": {"field": "s", "type": "nominal", "scale": {"domain": ["673 K", "773 K", "873 K", "973 K", "1073 K"], "range": ["#0000ff", "#00ffff", "#ff00ff", "#808000", "#800000"]},
                  "legend": {"orient": "none", "direction": "horizontal", "legendX": 109, "legendY": 79, "title": null, "columns": 4, "columnPadding": -2, "labelOffset": 12, "symbolSize": 256, "rowPadding": 5,
                    "encoding": {"symbols": {"shape": {"value": {"expr": "datum.value === '673 K' ? 'M-1.6,0H1.6M0,-0.8L0.65,0L0,0.8L-0.65,0Z' : datum.value === '773 K' ? 'M-1.6,0H1.6M-0.7,0L0.55,-0.75L0.55,0.75Z' : datum.value === '873 K' ? 'M-1.6,0H1.6M0.7,0L-0.55,-0.75L-0.55,0.75Z' : datum.value === '973 K' ? 'M-1.6,0H1.6M0,-0.75L0.17,-0.23L0.71,-0.23L0.27,0.09L0.44,0.61L0,0.29L-0.44,0.61L-0.27,0.09L-0.71,-0.23L-0.17,-0.23Z' : 'M-1.6,0H1.6M0,-0.7V0.7M-0.6,-0.35L0.6,0.35M-0.6,0.35L0.6,-0.35'"}}, "strokeWidth": {"value": 1.2}}}}}}}
          ]
        }
      ]
    }
  ]
}
